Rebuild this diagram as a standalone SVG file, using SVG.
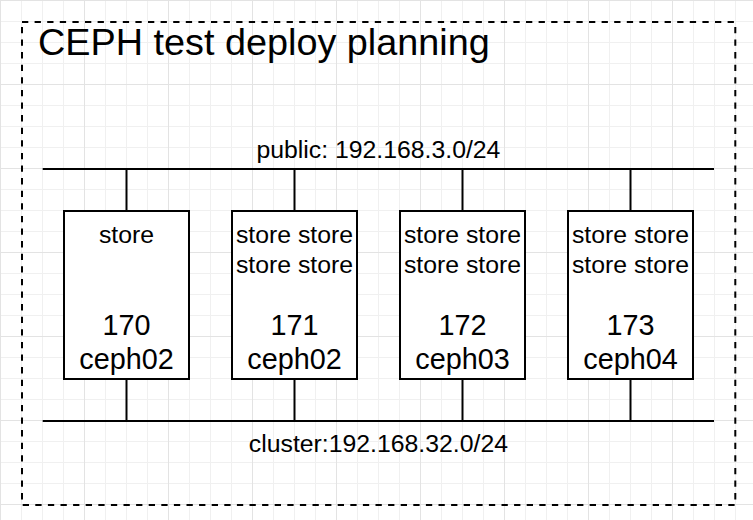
<svg xmlns="http://www.w3.org/2000/svg" width="753" height="520" viewBox="0 0 753 520">
  <style>
    text { font-family: "Liberation Sans", Arial, Helvetica, sans-serif; fill: #000; }
    .title { font-size: 37.8px; }
    .lbl { font-size: 24.8px; text-anchor: middle; }
    .num { font-size: 28.8px; text-anchor: middle; }
    .box { fill: #fff; stroke: #000; stroke-width: 2; }
    .bus { stroke: #000; stroke-width: 2; fill: none; }
    .conn { stroke: #000; stroke-width: 2; fill: none; }
  </style>
  <defs>
    <pattern id="grid" width="84" height="84" patternUnits="userSpaceOnUse">
      <path d="M21.5 0V84M42.5 0V84M63.5 0V84M0 21.5H84M0 42.5H84M0 63.5H84" stroke="#f0f0f0" stroke-width="1" fill="none"/>
      <path d="M0.5 0V84M0 0.5H84" stroke="#e3e3e3" stroke-width="1" fill="none"/>
    </pattern>
  </defs>
  <rect x="0" y="0" width="753" height="520" fill="#fff"/>
  <rect x="0" y="0" width="753" height="520" fill="url(#grid)"/>

  <g id="frame">
    <rect x="22" y="22" width="713.3" height="483" fill="none" stroke="#000" stroke-width="2" stroke-dasharray="6.3 6.3"/>
    <text class="title" x="38" y="55">CEPH test deploy planning</text>
  </g>

  <g id="connectors">
    <line class="conn" x1="126.5" y1="169" x2="126.5" y2="211"/>
    <line class="conn" x1="294.5" y1="169" x2="294.5" y2="211"/>
    <line class="conn" x1="462.5" y1="169" x2="462.5" y2="211"/>
    <line class="conn" x1="630.5" y1="169" x2="630.5" y2="211"/>
    <line class="conn" x1="126.5" y1="379" x2="126.5" y2="421"/>
    <line class="conn" x1="294.5" y1="379" x2="294.5" y2="421"/>
    <line class="conn" x1="462.5" y1="379" x2="462.5" y2="421"/>
    <line class="conn" x1="630.5" y1="379" x2="630.5" y2="421"/>
  </g>

  <g id="public-net">
    <line class="bus" x1="42.7" y1="169" x2="714" y2="169"/>
    <text class="lbl" x="378.4" y="158">public: 192.168.3.0/24</text>
  </g>

  <g id="cluster-net">
    <line class="bus" x1="42.7" y1="421" x2="714" y2="421"/>
    <text class="lbl" x="378.4" y="452">cluster:192.168.32.0/24</text>
  </g>

  <g id="node-170">
    <rect class="box" x="64" y="211" width="125" height="168"/>
    <text class="lbl" x="126.5" y="242.5">store</text>
    <text class="num" x="126.5" y="335">170</text>
    <text class="num" x="126.5" y="368.5">ceph02</text>
  </g>

  <g id="node-171">
    <rect class="box" x="232" y="211" width="125" height="168"/>
    <text class="lbl" x="294.5" y="242.5">store store</text>
    <text class="lbl" x="294.5" y="272.5">store store</text>
    <text class="num" x="294.5" y="335">171</text>
    <text class="num" x="294.5" y="368.5">ceph02</text>
  </g>

  <g id="node-172">
    <rect class="box" x="400" y="211" width="125" height="168"/>
    <text class="lbl" x="462.5" y="242.5">store store</text>
    <text class="lbl" x="462.5" y="272.5">store store</text>
    <text class="num" x="462.5" y="335">172</text>
    <text class="num" x="462.5" y="368.5">ceph03</text>
  </g>

  <g id="node-173">
    <rect class="box" x="568" y="211" width="125" height="168"/>
    <text class="lbl" x="630.5" y="242.5">store store</text>
    <text class="lbl" x="630.5" y="272.5">store store</text>
    <text class="num" x="630.5" y="335">173</text>
    <text class="num" x="630.5" y="368.5">ceph04</text>
  </g>
</svg>
